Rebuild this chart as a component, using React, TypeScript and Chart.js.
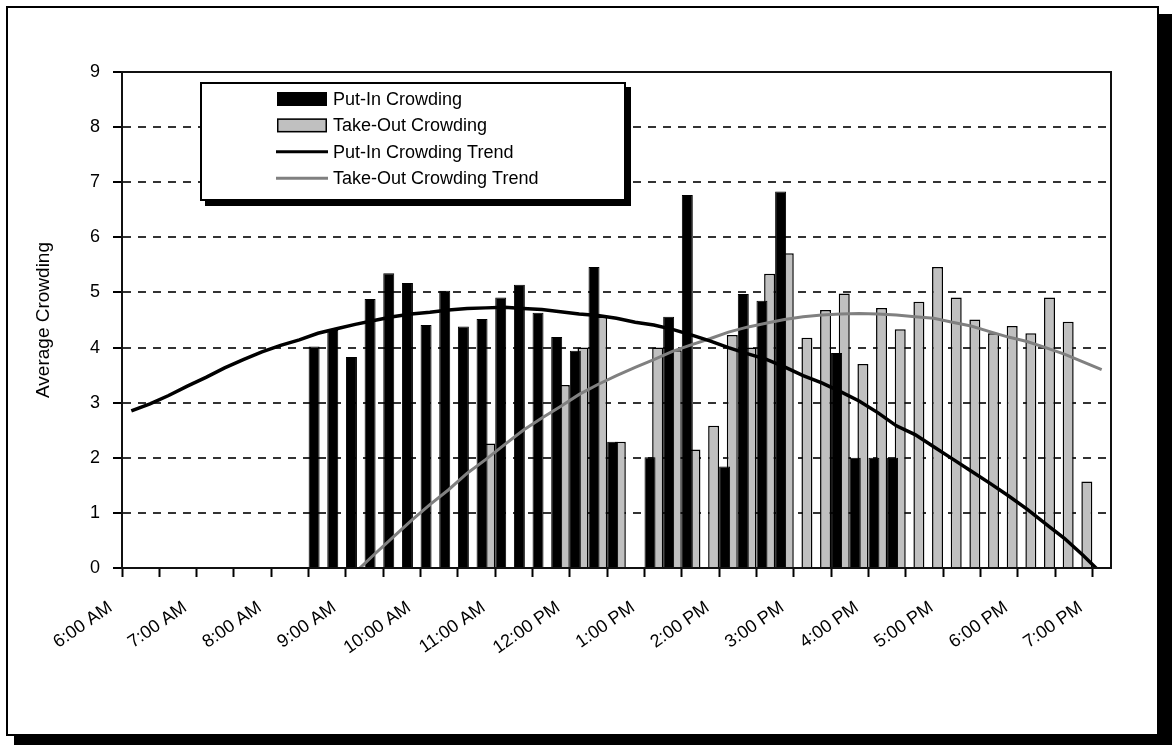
import React, { useEffect, useRef } from 'react';
import { Chart, registerables } from 'chart.js';

Chart.register(...registerables);

const CATEGORIES = [
  '6:00 AM', '6:15 AM', '6:30 AM', '6:45 AM',
  '7:00 AM', '7:15 AM', '7:30 AM', '7:45 AM',
  '8:00 AM', '8:15 AM', '8:30 AM', '8:45 AM',
  '9:00 AM', '9:15 AM', '9:30 AM', '9:45 AM',
  '10:00 AM', '10:15 AM', '10:30 AM', '10:45 AM',
  '11:00 AM', '11:15 AM', '11:30 AM', '11:45 AM',
  '12:00 PM', '12:15 PM', '12:30 PM', '12:45 PM',
  '1:00 PM', '1:15 PM', '1:30 PM', '1:45 PM',
  '2:00 PM', '2:15 PM', '2:30 PM', '2:45 PM',
  '3:00 PM', '3:15 PM', '3:30 PM', '3:45 PM',
  '4:00 PM', '4:15 PM', '4:30 PM', '4:45 PM',
  '5:00 PM', '5:15 PM', '5:30 PM', '5:45 PM',
  '6:00 PM', '6:15 PM', '6:30 PM', '6:45 PM',
  '7:00 PM',
];

const PUT_IN = [
  null, null, null, null, null, null, null, null, null, null,
  4.02, 4.32, 3.83, 4.88, 5.35, 5.17, 4.41, 5.03, 4.38, 4.52,
  4.91, 5.14, 4.63, 4.19, 3.94, 5.46, 2.29, null, 2.01, 4.56,
  6.77, null, 1.84, 4.97, 4.85, 6.83, null, null, 3.9, 2.0,
  2.0, 2.0, null, null, null, null, null, null, null, null,
  null, null, null,
];

const TAKE_OUT = [
  null, null, null, null, null, null, null, null, null, null,
  null, null, null, null, null, null, null, null, null, 2.26,
  null, null, null, 3.32, 4.0, 4.56, 2.29, null, 4.0, 3.95,
  2.15, 2.58, 4.23, 4.0, 5.34, 5.71, 4.18, 4.68, 4.98, 3.7,
  4.72, 4.33, 4.83, 5.46, 4.91, 4.51, 4.26, 4.39, 4.26, 4.91,
  4.47, 1.57, null,
];

const PUT_IN_TREND = [
  2.85, 2.98, 3.13, 3.3, 3.46, 3.63, 3.78, 3.92, 4.04, 4.14,
  4.26, 4.34, 4.42, 4.49, 4.56, 4.61, 4.64, 4.68, 4.71, 4.72,
  4.73, 4.71, 4.69, 4.65, 4.61, 4.58, 4.53, 4.46, 4.41, 4.33,
  4.23, 4.12, 4.0, 3.89, 3.79, 3.65, 3.49, 3.36, 3.2, 3.03,
  2.82, 2.58, 2.42, 2.2, 1.98, 1.76, 1.54, 1.31, 1.07, 0.8,
  0.54, 0.23, -0.1,
];

const TAKE_OUT_TREND = [
  null, null, null, null, null, null, null, null, null, null,
  null, null, -0.08, 0.24, 0.55, 0.86, 1.15, 1.42, 1.72, 1.97,
  2.24, 2.5, 2.72, 2.93, 3.15, 3.33, 3.49, 3.64, 3.78, 3.93,
  4.05, 4.16, 4.28, 4.37, 4.44, 4.51, 4.56, 4.59, 4.61, 4.62,
  4.61, 4.59, 4.56, 4.53, 4.46, 4.39, 4.29, 4.19, 4.11, 4.0,
  3.88, 3.74, 3.6,
];

const SERIES_LABELS = [
  'Put-In Crowding',
  'Take-Out Crowding',
  'Put-In Crowding Trend',
  'Take-Out Crowding Trend',
];

const Y_TITLE = 'Average Crowding';

const W = 1172;
const H = 745;
const FONT = "'Liberation Sans', Arial, sans-serif";

const framePlugin = {
  id: 'frame',
  beforeDraw(chart: any) {
    const ctx = chart.ctx;
    ctx.save();
    ctx.fillStyle = '#fff';
    ctx.fillRect(0, 0, W, H);
    ctx.fillStyle = '#000';
    ctx.fillRect(14, 14, W - 14, H - 14);
    ctx.fillStyle = '#fff';
    ctx.fillRect(6, 6, 1153, 730);
    ctx.strokeStyle = '#000';
    ctx.lineWidth = 2;
    ctx.strokeRect(7, 7, 1151, 728);
    ctx.restore();
  },
};

const plotBoxPlugin = {
  id: 'plotBox',
  afterDatasetsDraw(chart: any) {
    const { ctx, chartArea } = chart;
    ctx.save();
    ctx.strokeStyle = '#111';
    ctx.lineWidth = 2;
    ctx.strokeRect(chartArea.left, chartArea.top, chartArea.right - chartArea.left, chartArea.bottom - chartArea.top);
    ctx.restore();
  },
};

const legendPlugin = {
  id: 'boxLegend',
  afterDraw(chart: any) {
    const ctx = chart.ctx;
    const x = 200, y = 82, w = 426, h = 119;
    ctx.save();
    ctx.fillStyle = '#000';
    ctx.fillRect(x + 5, y + 5, w, h);
    ctx.fillStyle = '#fff';
    ctx.fillRect(x, y, w, h);
    ctx.strokeStyle = '#000';
    ctx.lineWidth = 2;
    ctx.strokeRect(x + 1, y + 1, w - 2, h - 2);
    chart.data.datasets.forEach((d: any, i: number) => {
      const cy = 99 + i * 26.4;
      if (d.type === 'bar') {
        ctx.fillStyle = d.backgroundColor;
        ctx.fillRect(277, cy - 7, 50, 14);
        ctx.strokeStyle = '#000';
        ctx.lineWidth = 1.5;
        ctx.strokeRect(277.75, cy - 6.25, 48.5, 12.5);
      } else {
        ctx.strokeStyle = d.borderColor;
        ctx.lineWidth = 3;
        ctx.beginPath();
        ctx.moveTo(276, cy);
        ctx.lineTo(328, cy);
        ctx.stroke();
      }
      ctx.fillStyle = '#000';
      ctx.font = `18px ${FONT}`;
      ctx.textAlign = 'left';
      ctx.textBaseline = 'middle';
      ctx.fillText(d.label, 333, cy + 1);
    });
    ctx.restore();
  },
};

export default function App() {
  const ref = useRef<HTMLCanvasElement>(null);

  useEffect(() => {
    document.body.style.margin = '0';
    if (!ref.current) return;
    const chart = new Chart(ref.current, {
      type: 'bar',
      data: {
        labels: CATEGORIES,
        datasets: [
          {
            type: 'bar',
            label: SERIES_LABELS[0],
            data: PUT_IN,
            backgroundColor: '#000000',
            borderColor: '#000000',
            borderWidth: 1,
            categoryPercentage: 0.82,
            barPercentage: 1.435,
          } as any,
          {
            type: 'bar',
            label: SERIES_LABELS[1],
            data: TAKE_OUT,
            backgroundColor: '#c0c0c0',
            borderColor: '#000000',
            borderWidth: 1.5,
            categoryPercentage: 0.82,
            barPercentage: 1.435,
          } as any,
          {
            type: 'line',
            label: SERIES_LABELS[2],
            data: PUT_IN_TREND,
            borderColor: '#000000',
            borderWidth: 3.5,
            pointRadius: 0,
            tension: 0,
            fill: false,
            order: -1,
          } as any,
          {
            type: 'line',
            label: SERIES_LABELS[3],
            data: TAKE_OUT_TREND,
            borderColor: '#808080',
            borderWidth: 3,
            pointRadius: 0,
            tension: 0,
            fill: false,
            order: -1,
          } as any,
        ],
      },
      options: {
        responsive: false,
        animation: false,
        devicePixelRatio: 1,
        layout: { padding: { left: 28, right: 61, top: 72, bottom: 0 } },
        plugins: {
          legend: { display: false },
          tooltip: { enabled: false },
        },
        scales: {
          x: {
            type: 'category',
            offset: true,
            grid: {
              display: true,
              offset: true,
              drawOnChartArea: false,
              drawTicks: true,
              tickLength: 9,
              tickWidth: 2,
              tickColor: (c: any) => (c.index % 2 === 0 ? '#000' : 'rgba(0,0,0,0)'),
            },
            border: { display: true, color: '#000', width: 2 },
            ticks: {
              autoSkip: false,
              minRotation: 35,
              maxRotation: 35,
              labelOffset: -21,
              padding: 20,
              color: '#000',
              font: { family: FONT, size: 18 },
              callback: (_v: any, i: number) => (i % 4 === 0 ? CATEGORIES[i] : ''),
            },
            afterFit: (s: any) => { s.height = 177; },
          },
          y: {
            min: 0,
            max: 9,
            ticks: {
              stepSize: 1,
              padding: 13,
              color: '#000',
              font: { family: FONT, size: 18 },
            },
            grid: {
              color: '#333',
              lineWidth: 2,
              drawTicks: true,
              tickLength: 9,
              tickColor: '#000',
              tickWidth: 2,
            },
            border: { display: true, color: '#000', width: 2, dash: [8, 7] },
            title: {
              display: true,
              text: Y_TITLE,
              color: '#000',
              font: { family: FONT, size: 19 },
              padding: { top: 4, bottom: 4 },
            },
            afterFit: (s: any) => { s.width = 94; },
          },
        },
      } as any,
      plugins: [framePlugin, plotBoxPlugin, legendPlugin],
    });
    return () => chart.destroy();
  }, []);

  return <canvas ref={ref} width={W} height={H} style={{ display: 'block' }} />;
}
